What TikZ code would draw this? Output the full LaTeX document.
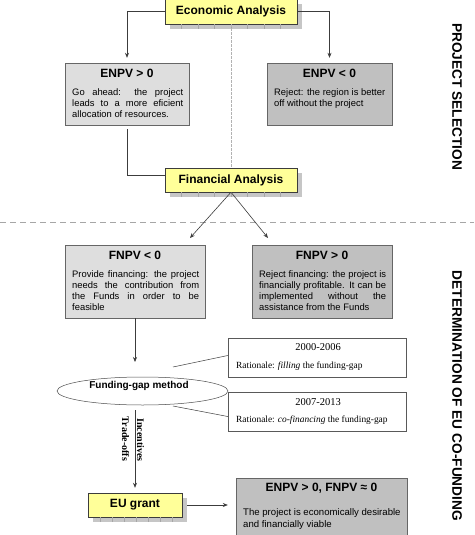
\documentclass[tikz,border=0pt]{standalone}
\usepackage{fontspec}
\setmainfont{Liberation Sans}
\newfontfamily\timesfont{Liberation Serif}
\usetikzlibrary{arrows.meta,shapes.geometric,shadows}
\definecolor{boxyellow}{RGB}{255,255,153}
\definecolor{lightbox}{RGB}{222,222,222}
\definecolor{darkbox}{RGB}{192,192,192}
\definecolor{linegray}{RGB}{60,60,60}

\begin{document}
\begin{tikzpicture}[x=1pt,y=-1pt,
  ybox/.style={rectangle,draw=linegray,fill=boxyellow,inner sep=0pt,minimum height=24pt,
    font=\fontsize{12}{14}\selectfont\bfseries,
    drop shadow={shadow xshift=5pt,shadow yshift=-5pt,fill=gray!45,opacity=1}},
  lbox/.style={rectangle,draw=gray!80!black,fill=lightbox,inner sep=0pt},
  dbox/.style={rectangle,draw=gray!80!black,fill=darkbox,inner sep=0pt},
  pbox/.style={rectangle,draw=gray!70!black,fill=white,inner sep=0pt},
  title/.style={inner sep=0pt,font=\fontsize{12}{14}\selectfont\bfseries},
  body/.style={inner sep=0pt,anchor=north west,align=justify,font=\fontsize{9.4}{11}\selectfont},
  period/.style={inner sep=0pt,font=\timesfont\fontsize{10.5}{12}\selectfont},
  rationale/.style={inner sep=0pt,anchor=base west,font=\timesfont\fontsize{9.4}{11}\selectfont},
  side/.style={inner sep=0pt,rotate=-90,font=\fontsize{13.7}{16}\selectfont\bfseries},
  trade/.style={inner sep=0pt,rotate=-90,font=\timesfont\fontsize{10}{12}\selectfont\bfseries},
  link/.style={draw=linegray,line width=.6pt},
  arr/.style={link,-{Stealth[length=5pt,width=4pt]}},
  tick/.style={draw=gray!70,line width=.4pt}]
\fill[white] (0,0) rectangle (474,535);
\useasboundingbox (0,0) rectangle (474,535);

\draw[gray!70,line width=.9pt,dash pattern=on 6pt off 4pt] (0,222) -- (474,222);

\node[ybox,minimum width=132pt,minimum height=25pt] (eco) at (231,11.5) {Economic Analysis};
\node[ybox,minimum width=132pt] (fin) at (231,180) {Financial Analysis};
\node[ybox,minimum width=94pt] (eu) at (135,505) {EU grant};
\foreach \n/\d in {eco/16.5,fin/16.5,eu/12}
  \foreach \i in {1,...,7}
    \draw[tick] ([xshift={\i*\d}]\n.south west) -- ++(0,5);

\node[lbox,minimum width=124pt,minimum height=62pt] (enpvpos) at (127,94) {};
\node[title] (enpvposT) at (127,73) {ENPV > 0};
\node[body,text width=111pt] (enpvposB) at (72,87.6) {\strut Go ahead: the project\linebreak leads to a more eficient\linebreak allocation of resources.};

\node[dbox,minimum width=125pt,minimum height=62pt] (enpvneg) at (329.5,94) {};
\node[title] (enpvnegT) at (329.5,73) {ENPV < 0};
\node[body,text width=111pt] (enpvnegB) at (274,87.6) {\strut Reject: the region is better\linebreak off without the project};

\node[lbox,minimum width=140pt,minimum height=73pt] (fnpvneg) at (135,281.5) {};
\node[title] (fnpvnegT) at (135,255) {FNPV < 0};
\node[body,text width=127pt] (fnpvnegB) at (72,269.6) {\strut Provide financing: the project\linebreak needs the contribution from\linebreak the Funds in order to be\linebreak feasible};

\node[dbox,minimum width=140pt,minimum height=73pt] (fnpvpos) at (322,281.5) {};
\node[title] (fnpvposT) at (322,255) {FNPV > 0};
\node[body,text width=127pt] (fnpvposB) at (259,269.6) {\strut Reject financing: the project is\linebreak financially profitable. It can be\linebreak implemented without the\linebreak assistance from the Funds};

\node[ellipse,draw=gray!60!black,fill=white,line width=.5pt,minimum width=171pt,minimum height=28pt,inner sep=0pt] (fgm) at (142.5,391) {};
\node[inner sep=0pt,font=\fontsize{10}{12}\selectfont\bfseries] (fgmT) at (139,386) {Funding-gap method};

\node[pbox,minimum width=178pt,minimum height=39pt] (p1) at (317,357.5) {};
\node[period] (p1Y) at (318,347) {2000-2006};
\node[rationale] (p1R) at (236,368.5) {Rationale: \textit{filling} the funding-gap};
\node[pbox,minimum width=178pt,minimum height=39pt] (p2) at (317,411.5) {};
\node[period] (p2Y) at (318,402) {2007-2013};
\node[rationale] (p2R) at (236,422.5) {Rationale: \textit{co-financing} the funding-gap};

\node[dbox,minimum width=171pt,minimum height=67pt] (final) at (321.5,511.5) {};
\node[title] (finalT) at (321.5,488) {ENPV > 0, FNPV ≈ 0};
\node[body,align=left,font=\fontsize{9.6}{12}\selectfont] (finalB) at (243,506.9) {\strut The project is economically desirable\\and financially viable};

\node[side] (selection) at (457,96.5) {PROJECT SELECTION};
\node[side] (cofunding) at (457,396) {DETERMINATION OF EU CO-FUNDING};

\coordinate (fnegin) at (190,238);
\coordinate (fposin) at (268,238);
\coordinate (fgmin) at (135,362);
\coordinate (fgmout) at (135,410);
\coordinate (c1) at (173,367);
\coordinate (c2) at (173,406);

\draw[arr] (eco.west) -| ([yshift=5pt]enpvpos.north);
\draw[arr] (eco.east) -| ([yshift=5pt]enpvneg.north);
\draw[gray!60,line width=.5pt,dash pattern=on 3pt off 1pt] (eco.south) -- (fin.north);
\draw[link] ([yshift=-4pt]enpvpos.south) |- ([yshift=5pt]fin.west);
\draw[arr] (fin.south) -- (fnegin);
\draw[arr] (fin.south) -- (fposin);
\draw[arr] (fnpvneg.south) -- (fgmin);
\draw[link,line width=.5pt] (c1) -- ([yshift=2pt]p1.west);
\draw[link,line width=.5pt] (c2) -- ([yshift=-5pt]p2.west);
\draw[arr] (fgmout) -- ([yshift=5pt]eu.north);
\node[trade] (tradeoffs) at (125.5,439) {Trade-offs};
\node[trade] (incentives) at (140.5,440) {Incentives};
\draw[arr,shorten <=5pt,shorten >=8pt] (eu.east) -- (eu.east -| final.west);
\end{tikzpicture}
\end{document}
